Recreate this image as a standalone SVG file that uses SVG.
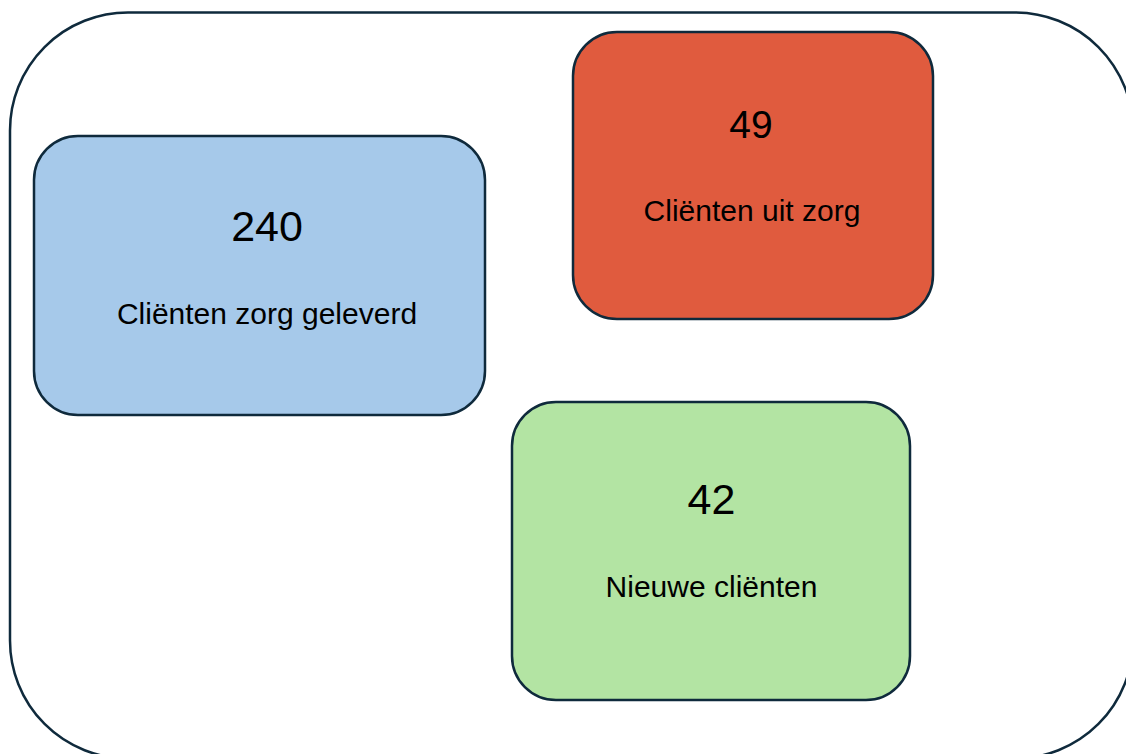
<svg xmlns="http://www.w3.org/2000/svg" width="1126" height="754" viewBox="0 0 1126 754">
<style>
.box{stroke:#0f2a3c;stroke-width:2.5}
.num{font-family:"Liberation Sans",Arial,sans-serif;fill:#000;text-anchor:middle}
.lbl{font-family:"Liberation Sans",Arial,sans-serif;font-size:30px;fill:#000;text-anchor:middle}
</style>
<rect width="1126" height="754" fill="#ffffff"/>
<g id="container">
<rect x="10" y="12.5" width="1123" height="746" rx="118" ry="118" fill="#ffffff" stroke="#0f2a3c" stroke-width="2.5"/>
</g>
<g id="connectors"></g>
<g id="node-geleverd">
<rect class="box" x="34" y="136" width="451" height="279" rx="44" ry="44" fill="#a6c9ea"/>
<text class="num" x="267" y="241" font-size="43">240</text>
<text class="lbl" x="267" y="324">Cliënten zorg geleverd</text>
</g>
<g id="node-uitzorg">
<rect class="box" x="573" y="32" width="360" height="287" rx="44" ry="44" fill="#e05b3e"/>
<text class="num" x="751" y="138" font-size="39">49</text>
<text class="lbl" x="752" y="221">Cliënten uit zorg</text>
</g>
<g id="node-nieuw">
<rect class="box" x="512" y="402" width="398" height="298" rx="44" ry="44" fill="#b3e4a3"/>
<text class="num" x="711.5" y="514" font-size="43">42</text>
<text class="lbl" x="711.5" y="597">Nieuwe cliënten</text>
</g>
</svg>
